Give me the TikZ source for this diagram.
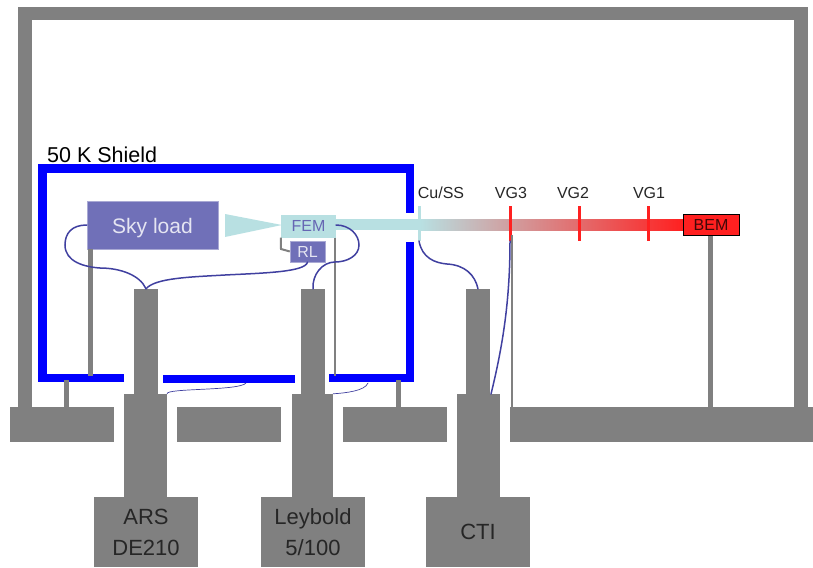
\documentclass[tikz,border=0pt]{standalone}
\usepackage{fontspec}
\setmainfont{Liberation Sans}
\usepackage{xcolor}
\definecolor{ColGray}{RGB}{128,128,128}
\definecolor{ColBlue}{RGB}{0,0,255}
\definecolor{ColPurple}{RGB}{112,112,184}
\definecolor{ColWire}{RGB}{64,64,160}
\definecolor{ColCold}{RGB}{184,224,226}
\definecolor{ColWarm}{RGB}{236,130,136}
\definecolor{ColHot}{RGB}{255,32,32}
\usepackage{tikz}
\tikzstyle{Block}=[rectangle,fill=ColGray,inner sep=0pt,font=\fontsize{22}{31}\selectfont,align=center,text=black!85]
\tikzstyle{Unit}=[rectangle,fill=ColPurple,draw=ColPurple!60,inner sep=0pt,text=white!82!ColPurple]
\tikzstyle{Label}=[inner sep=0pt,text=black!85,font=\fontsize{16}{19}\selectfont]
\tikzstyle{Post}=[draw=ColGray,line width=5pt]
\tikzstyle{PostThin}=[draw=ColGray,line width=2.5pt]
\tikzstyle{Shield}=[draw=ColBlue,line width=8.5pt]
\tikzstyle{Wire}=[draw=ColWire,line width=1.5pt,line cap=round]
\tikzstyle{WireThin}=[draw=ColWire,line width=.7pt,line cap=round]
\tikzstyle{Tick}=[line width=3pt]
\begin{document}
\begin{tikzpicture}[x=1pt,y=-1pt]
    \useasboundingbox(0,0)rectangle(813,567);
    % cryostat wall
    \draw[draw=ColGray,line width=13.5pt](25,410)--(25,13.5)--(801,13.5)--(801,410);
    % feet
    \coordinate(foot1)at(66,410);
    \coordinate(foot2)at(398,410);
    \coordinate(foot3)at(512,410);
    \coordinate(foot4)at(710,410);
    \coordinate(skyend)at(90,376);
    \coordinate(femend)at(335,376);
    \coordinate(shield1)at(66,380);
    \coordinate(shield2)at(398,380);
    % plates
    \node[Block,minimum width=104pt,minimum height=35pt](plate1)at(62,424.5){};
    \node[Block,minimum width=104pt,minimum height=35pt](plate2)at(229,424.5){};
    \node[Block,minimum width=104pt,minimum height=35pt](plate3)at(395,424.5){};
    \node[Block,minimum width=303pt,minimum height=35pt](plate4)at(661.5,424.5){};
    % pumps
    \node[Block,minimum width=24pt,minimum height=106pt](arsneck)at(146,342){};
    \node[Block,minimum width=43pt,minimum height=104pt](arsbody)at(145.5,446){};
    \node[Block,minimum width=104pt,minimum height=70pt](ars)at(146,532){ARS\\DE210};
    \node[Block,minimum width=24pt,minimum height=106pt](leyneck)at(313,342){};
    \node[Block,minimum width=41pt,minimum height=104pt](leybody)at(312.5,446){};
    \node[Block,minimum width=104pt,minimum height=70pt](ley)at(313,532){Leybold\\5/100};
    \node[Block,minimum width=24pt,minimum height=106pt](ctineck)at(478,342){};
    \node[Block,minimum width=43pt,minimum height=104pt](ctibody)at(478.5,446){};
    \node[Block,minimum width=104pt,minimum height=70pt](cti)at(478,532){CTI};
    % shield
    \draw[Shield](124,378)--(42.5,378)--(42.5,168.5)--(410,168.5)--(410,213);
    \draw[Shield](410,242)--(410,378)--(329,378);
    \draw[Shield](163,379)--(295,379);
    \node[inner sep=0pt,anchor=west,font=\fontsize{21.5}{25}\selectfont,text=black](shieldlabel)at(47,155){50 K Shield};
    % tube
    \fill[ColCold](336,219)rectangle(420,230);
    \shade[left color=ColCold,middle color=ColWarm,right color=ColHot](420,219)rectangle(683,230);
    % units
    \node[Unit,minimum width=131pt,minimum height=48pt,text height=16pt,text depth=0pt,font=\fontsize{21}{25}\selectfont](sky)at(152.5,225){Sky load};
    \fill[ColCold](225,214)--(282,225)--(225,237)--cycle;
    \node[rectangle,fill=ColCold,inner sep=0pt,minimum width=55pt,minimum height=23pt,text=ColWire!80,font=\fontsize{16}{19}\selectfont](fem)at(308.5,226){FEM};
    \node[Unit,minimum width=35pt,minimum height=21pt,font=\fontsize{16}{19}\selectfont](rl)at(307.5,251.5){RL};
    \node[rectangle,fill=ColHot,draw=black,line width=1pt,inner sep=0pt,minimum width=56pt,minimum height=21pt,text=black!75!ColHot,font=\fontsize{16}{19}\selectfont](bem)at(711,225){BEM};
    % ticks
    \node[Label](cuss)at(441,193){Cu/SS};
    \node[Label](vg3)at(511,193){VG3};
    \node[Label](vg2)at(573,193){VG2};
    \node[Label](vg1)at(649,193){VG1};
    \draw[Tick,draw=ColCold](419,206)--(419,241);
    \draw[Tick,draw=ColHot](510,206)--(510,241);
    \draw[Tick,draw=ColHot](579,206)--(579,241);
    \draw[Tick,draw=ColHot](648,206)--(648,241);
    % posts
    \draw[Post](sky.south-|skyend)--(skyend);
    \draw[PostThin](fem.south-|femend)--(femend);
    \draw[Post](shield1)--(foot1);
    \draw[Post](shield2)--(foot2);
    \draw[PostThin](512,235)--(foot3);
    \draw[Post](bem.south-|foot4)--(foot4);
    \draw[draw=ColGray,line width=2pt](fem.south west)--(281,249)--(rl.west);
    % wires
    \draw[Wire](sky.west)..controls(72,225)and(65,233)..(65,245)
        ..controls(65,262)and(85,267)..(100,268)
        ..controls(120,268)and(140,275)..(arsneck.north);
    \draw[Wire](arsneck.north)..controls(155,278)and(190,277)..(225,275)
        ..controls(265,273)and(305,272)..(rl.south);
    \draw[Wire](336,225)..controls(350,225)and(359,235)..(359,245)
        ..controls(359,256)and(347,262)..(335,262)
        ..controls(322,262)and(312,275)..(leyneck.north);
    \draw[Wire](419,241)..controls(422,258)and(435,263)..(447,264)
        ..controls(465,265)and(475,275)..(ctineck.north);
    \draw[Wire](510,241)..controls(510,300)and(503,345)..(491,394);
    \draw[WireThin](arsbody.north east)..controls(165,388)and(240,391)..(246,383);
    \draw[WireThin](leybody.north east)..controls(345,393)and(365,391)..(368,383);
\end{tikzpicture}
\end{document}
